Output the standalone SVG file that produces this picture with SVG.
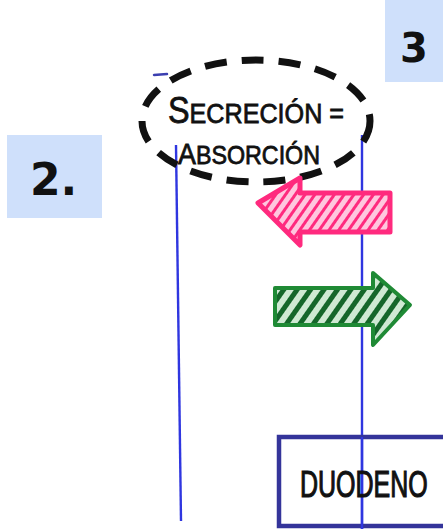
<svg xmlns="http://www.w3.org/2000/svg" width="443" height="529" viewBox="0 0 443 529">
  <style>
    .label-box { fill: #cfe0fb; }
    .num { font-family: "DejaVu Sans", "Liberation Sans", sans-serif; font-weight: bold; fill: #111; }
    .hand { font-family: "Liberation Sans", "DejaVu Sans", sans-serif; fill: #111; stroke: #111; stroke-width: 0.8; }
    .wall { stroke: #2f36e0; stroke-width: 2.4; fill: none; }
  </style>
  <defs>
    <pattern id="hatchPink" patternUnits="userSpaceOnUse" width="8" height="8" patternTransform="rotate(35)">
      <rect width="8" height="8" fill="#ffc6de"/>
      <line x1="0" y1="0" x2="0" y2="8" stroke="#ff2a7e" stroke-width="6"/>
    </pattern>
    <pattern id="hatchGreen" patternUnits="userSpaceOnUse" width="11" height="11" patternTransform="rotate(35)">
      <rect width="11" height="11" fill="#cfe9d3"/>
      <line x1="0" y1="0" x2="0" y2="11" stroke="#15662a" stroke-width="10"/>
    </pattern>
  </defs>

  <rect width="443" height="529" fill="#ffffff"/>

  <!-- step labels -->
  <g id="step-2">
    <rect class="label-box" x="7" y="135" width="95" height="83"/>
    <text class="num" x="30" y="195" font-size="44">2.</text>
  </g>
  <g id="step-3">
    <rect class="label-box" x="385" y="0" width="58" height="82"/>
    <text class="num" x="400" y="62" font-size="40">3</text>
  </g>

  <!-- epithelium walls -->
  <g id="walls">
    <line class="wall" x1="176" y1="145" x2="181" y2="521"/>
    <line class="wall" x1="362" y1="135" x2="362" y2="529"/>
    <line x1="154" y1="75" x2="167" y2="74" stroke="#3b3fb0" stroke-width="2.5" stroke-linecap="round"/>
  </g>

  <!-- dashed balance note -->
  <g id="balance">
    <ellipse cx="256" cy="121" rx="114" ry="61" fill="none" stroke="#111" stroke-width="7" stroke-dasharray="22 15"/>
    <text class="hand" x="168" y="123" font-size="28" textLength="176" lengthAdjust="spacingAndGlyphs"><tspan font-size="36">S</tspan>ECRECIÓN =</text>
    <text class="hand" x="178" y="164" font-size="26" textLength="142" lengthAdjust="spacingAndGlyphs"><tspan font-size="30">A</tspan>BSORCIÓN</text>
  </g>

  <!-- secretion arrow (pink, leftward) -->
  <g id="arrow-secretion">
    <path d="M390,193 L300,193 L300,178 L258,203 L300,245 L300,232 L390,232 Z"
          fill="url(#hatchPink)" stroke="#ff2a7e" stroke-width="5" stroke-linejoin="round"/>
  </g>

  <!-- absorption arrow (green, rightward) -->
  <g id="arrow-absorption">
    <path d="M275,288 L373,288 L373,273 L410,305 L373,345 L373,325 L275,325 Z"
          fill="url(#hatchGreen)" stroke="#1f8a35" stroke-width="4" stroke-linejoin="round"/>
  </g>

  <!-- duodenum segment (box runs off the right edge) -->
  <g id="duodeno">
    <path d="M443,437 L279,437 L279,526 L443,526" fill="none" stroke="#34349a" stroke-width="4.5"/>
    <line class="wall" x1="362" y1="437" x2="362" y2="529"/>
    <text class="hand" transform="translate(300,497) scale(1,1.45)" x="0" y="0" font-size="25" stroke-width="1.1">DUODENO</text>
  </g>
</svg>
